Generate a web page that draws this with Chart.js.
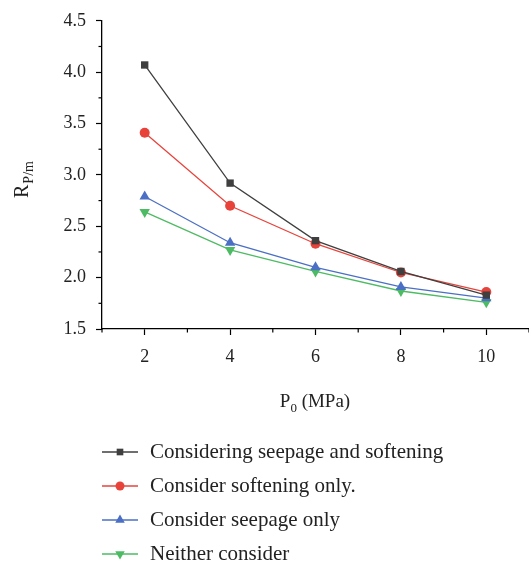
<!DOCTYPE html>
<html>
<head>
<meta charset="utf-8">
<script src="https://cdn.jsdelivr.net/npm/chart.js@4.4.0/dist/chart.umd.min.js"></script>
<style>
  body { margin: 0; background: #fff; }
</style>
</head>
<body>
<canvas id="myChart" width="529" height="565"></canvas>
<script>
// datos
var presiones = [2, 4, 6, 8, 10]
var nombres = ['Considering seepage and softening', 'Consider softening only.', 'Consider seepage only', 'Neither consider']
var filtracionYAblandamiento = [4.07, 2.92, 2.36, 2.06, 1.83]
var soloAblandamiento = [3.41, 2.70, 2.33, 2.05, 1.86]
var soloFiltracion = [2.79, 2.34, 2.10, 1.91, 1.80]
var ninguno = [2.64, 2.27, 2.06, 1.87, 1.76]
var yMin = 1.5, yMax = 4.5, yPaso = 0.5
var xMin = 1, xMax = 11

var colores = ['#3f3f3f', '#e8433b', '#4a6fc4', '#4dbb63']
var estilos = ['rect', 'circle', 'triangle', 'triangle']
var radios = [5.2, 5, 6, 6]
var rotaciones = [0, 0, 0, 180]
var series = [filtracionYAblandamiento, soloAblandamiento, soloFiltracion, ninguno]

var serif = "'Liberation Serif', 'DejaVu Serif', serif"

function puntos(valores) {
    return presiones.map((p, i) => ({x: p, y: valores[i]}))
}

var datasets = series.map((s, i) => ({
    label: nombres[i],
    data: puntos(s),
    borderColor: colores[i],
    backgroundColor: colores[i],
    borderWidth: 1.3,
    pointStyle: estilos[i],
    pointRadius: radios[i],
    pointRotation: rotaciones[i],
    pointBorderWidth: 0,
    tension: 0
}))

// ticks menores, titulos y leyenda
var extras = {
    id: 'extras',
    afterDraw(chart) {
        let c = chart.ctx
        let xs = chart.scales.x, ys = chart.scales.y
        let area = chart.chartArea
        c.save()
        c.strokeStyle = '#000'
        c.lineWidth = 1.2
        for (let v = yMin + yPaso / 2; v < yMax; v += yPaso) {
            let y = ys.getPixelForValue(v)
            c.beginPath(); c.moveTo(area.left - 3.5, y); c.lineTo(area.left, y); c.stroke()
        }
        for (let v = xMin; v <= xMax; v += 2) {
            let x = xs.getPixelForValue(v)
            c.beginPath(); c.moveTo(x, area.bottom); c.lineTo(x, area.bottom + 3.5); c.stroke()
        }

        c.fillStyle = '#222'
        // titulo eje y
        c.save()
        c.translate(28, 198)
        c.rotate(-Math.PI / 2)
        c.textBaseline = 'alphabetic'
        c.textAlign = 'left'
        c.font = '20px ' + serif
        c.fillText('R', 0, 0)
        let w = c.measureText('R').width
        c.font = '14px ' + serif
        c.fillText('P/m', w + 1, 5)
        c.restore()

        // titulo eje x
        c.textBaseline = 'alphabetic'
        c.textAlign = 'left'
        c.font = '19px ' + serif
        let wp = c.measureText('P').width
        c.font = '13px ' + serif
        let w0 = c.measureText('0').width
        c.font = '19px ' + serif
        let resto = ' (MPa)'
        let wr = c.measureText(resto).width
        let x0 = 315 - (wp + w0 + wr) / 2
        c.fillText('P', x0, 407)
        c.font = '13px ' + serif
        c.fillText('0', x0 + wp, 412)
        c.font = '19px ' + serif
        c.fillText(resto, x0 + wp + w0, 407)

        // leyenda
        chart.data.datasets.forEach((ds, i) => {
            let y = 452 + i * 34
            c.strokeStyle = ds.borderColor
            c.lineWidth = 1.3
            c.beginPath(); c.moveTo(102, y); c.lineTo(138, y); c.stroke()
            c.save()
            c.fillStyle = ds.backgroundColor
            Chart.helpers.drawPoint(c, {pointStyle: ds.pointStyle, radius: ds.pointRadius - 0.5, rotation: ds.pointRotation, borderWidth: 0}, 120, y)
            c.restore()
            c.fillStyle = '#222'
            c.font = '21px ' + serif
            c.textBaseline = 'middle'
            c.fillText(ds.label, 150, y)
        })
        c.restore()
    }
}

var ctx = document.getElementById('myChart')
var grafico = new Chart(ctx, {
    type: 'line',
    data: { datasets: datasets },
    options: {
        responsive: false,
        animation: false,
        clip: false,
        layout: { autoPadding: false, padding: { top: 20, right: 0, left: 0, bottom: 0 } },
        plugins: { legend: { display: false }, tooltip: { enabled: false } },
        scales: {
            x: {
                type: 'linear',
                min: xMin,
                max: xMax,
                ticks: {
                    stepSize: 1,
                    padding: 11,
                    color: '#222',
                    font: { family: serif, size: 18 },
                    callback: v => (v % 2 === 0 ? String(v) : null)
                },
                grid: { drawOnChartArea: false, tickLength: 6, tickColor: '#000', tickWidth: 1.2 },
                border: { color: '#000', width: 1.3 },
                afterFit: s => { s.height = 236; s.paddingRight = 0; s.paddingLeft = 0 }
            },
            y: {
                min: yMin,
                max: yMax,
                ticks: {
                    stepSize: yPaso,
                    padding: 10,
                    color: '#222',
                    font: { family: serif, size: 18 },
                    callback: v => v.toFixed(1)
                },
                grid: { drawOnChartArea: false, tickLength: 6, tickColor: '#000', tickWidth: 1.2 },
                border: { color: '#000', width: 1.3 },
                afterFit: s => { s.width = 102 }
            }
        }
    },
    plugins: [extras]
})
</script>
</body>
</html>
